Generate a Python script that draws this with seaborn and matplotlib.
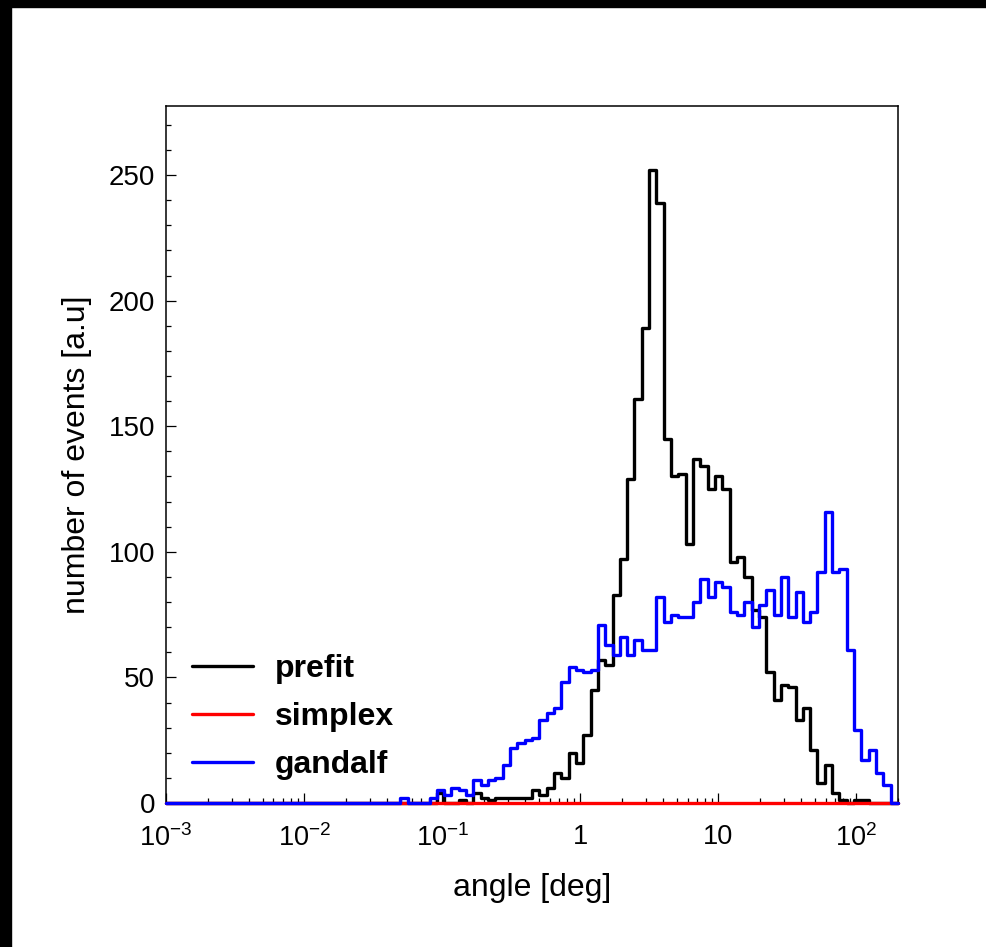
import numpy as np
import pandas as pd
import matplotlib
matplotlib.use('Agg')
import matplotlib.pyplot as plt
from matplotlib.patches import Rectangle
from matplotlib.ticker import FixedLocator, FixedFormatter, LogLocator, MultipleLocator, NullFormatter
import seaborn as sns

# binning: 100 log bins between 1e-3 and 200 deg
n_bins = 100
x_min, x_max = 1e-3, 200

# counts per bin (rows of 10 bins)
prefit = [0, 0, 0, 0, 0, 0, 0, 0, 0, 0,
          0, 0, 0, 0, 0, 0, 0, 0, 0, 0,
          0, 0, 0, 0, 0, 0, 0, 0, 0, 0,
          0, 0, 0, 0, 0, 0, 0, 4, 0, 0,
          1, 0, 4, 2, 1, 2, 2, 2, 2, 2,
          5, 3, 6, 12, 10, 20, 16, 27, 45, 57,
          55, 83, 97, 129, 161, 189, 252, 239, 145, 130,
          131, 103, 137, 134, 125, 130, 125, 96, 98, 90,
          77, 74, 52, 41, 47, 46, 33, 38, 21, 8,
          15, 4, 1, 0, 1, 1, 0, 0, 0, 0]

simplex = [0] * n_bins

gandalf = [0, 0, 0, 0, 0, 0, 0, 0, 0, 0,
           0, 0, 0, 0, 0, 0, 0, 0, 0, 0,
           0, 0, 0, 0, 0, 0, 0, 0, 0, 0,
           0, 0, 2, 0, 0, 0, 2, 5, 3, 6,
           5, 3, 9, 7, 9, 10, 15, 22, 24, 25,
           26, 33, 36, 38, 48, 54, 53, 52, 53, 71,
           63, 59, 66, 59, 65, 61, 61, 82, 72, 75,
           74, 74, 80, 89, 82, 88, 86, 76, 75, 80,
           70, 79, 85, 75, 90, 74, 84, 72, 76, 92,
           116, 92, 93, 61, 29, 17, 21, 12, 7, 0]

series = ['prefit', 'simplex', 'gandalf']
colors = ['black', 'red', 'blue']

x_ticks = [1e-3, 1e-2, 1e-1, 1, 10, 100]
x_ticklabels = ['$10^{-3}$', '$10^{-2}$', '$10^{-1}$', '1', '10', '$10^{2}$']
y_ticks = [0, 50, 100, 150, 200, 250]

# bin centres (in log space) so each weight lands in its own bin
log_edges = np.linspace(np.log10(x_min), np.log10(x_max), n_bins + 1)
centres = 10 ** (0.5 * (log_edges[:-1] + log_edges[1:]))

df = pd.DataFrame({
    'angle': np.tile(centres, 3),
    'count': np.concatenate([prefit, simplex, gandalf]),
    'fit': np.repeat(series, n_bins),
})

sns.set_style('ticks')
plt.rcParams['font.family'] = ['Liberation Sans', 'DejaVu Sans']
plt.rcParams['mathtext.fontset'] = 'custom'
plt.rcParams['mathtext.rm'] = 'Liberation Sans'
plt.rcParams['mathtext.it'] = 'Liberation Sans:italic'
plt.rcParams['text.color'] = 'black'
plt.rcParams['axes.labelcolor'] = 'black'
plt.rcParams['xtick.color'] = 'black'
plt.rcParams['ytick.color'] = 'black'

fig = plt.figure(figsize=(9.87, 9.47), dpi=100)
ax = fig.add_axes([166 / 987, 1 - 803 / 947, 732 / 987, 697 / 947])

for name, col in zip(series, colors):
    sns.histplot(data=df[df['fit'] == name], x='angle', weights='count',
                 bins=n_bins, binrange=(np.log10(x_min), np.log10(x_max)),
                 log_scale=True, element='step', fill=False,
                 color=col, linewidth=2.4, label=name, ax=ax)

# histogram lines sit on top of the frame, like the original
for ln in ax.lines:
    ln.set_clip_on(False)
    ln.set_zorder(3)

ax.set_xlim(x_min, x_max)
ax.set_ylim(0, 277.5)

ax.xaxis.set_major_locator(FixedLocator(x_ticks))
ax.xaxis.set_major_formatter(FixedFormatter(x_ticklabels))
ax.xaxis.set_minor_locator(LogLocator(base=10, subs=np.arange(2, 10)))
ax.xaxis.set_minor_formatter(NullFormatter())
ax.yaxis.set_major_locator(FixedLocator(y_ticks))
ax.yaxis.set_minor_locator(MultipleLocator(10))

ax.tick_params(which='both', direction='in', top=False, right=False,
               width=0.9, color='black')
ax.tick_params(which='major', length=7.5)
ax.tick_params(which='minor', length=3.8)
ax.tick_params(axis='y', labelsize=20, pad=8)
ax.tick_params(axis='x', labelsize=19.5, pad=15)

for sp in ax.spines.values():
    sp.set_visible(True)
    sp.set_linewidth(1.1)
    sp.set_color('black')

ax.set_xlabel('angle [deg]', fontsize=23)
ax.set_ylabel('number of events [a.u]', fontsize=23)
ax.xaxis.set_label_coords(0.5, -0.1)
ax.yaxis.set_label_coords(-0.101, 0.5)

ax.legend(loc='center left', bbox_to_anchor=(0.0355, 0.123), frameon=False,
          prop={'weight': 'bold', 'size': 23}, handlelength=1.9,
          handletextpad=0.7, labelspacing=0.56, borderpad=0, borderaxespad=0)

# dark frame on the top and left edge of the original picture
fig.patches.append(Rectangle((0, 1 - 7 / 947), 1, 7 / 947, transform=fig.transFigure,
                             color='black', zorder=10))
fig.patches.append(Rectangle((0, 0), 11 / 987, 1, transform=fig.transFigure,
                             color='black', zorder=10))

fig.savefig('out.png', dpi=100)
